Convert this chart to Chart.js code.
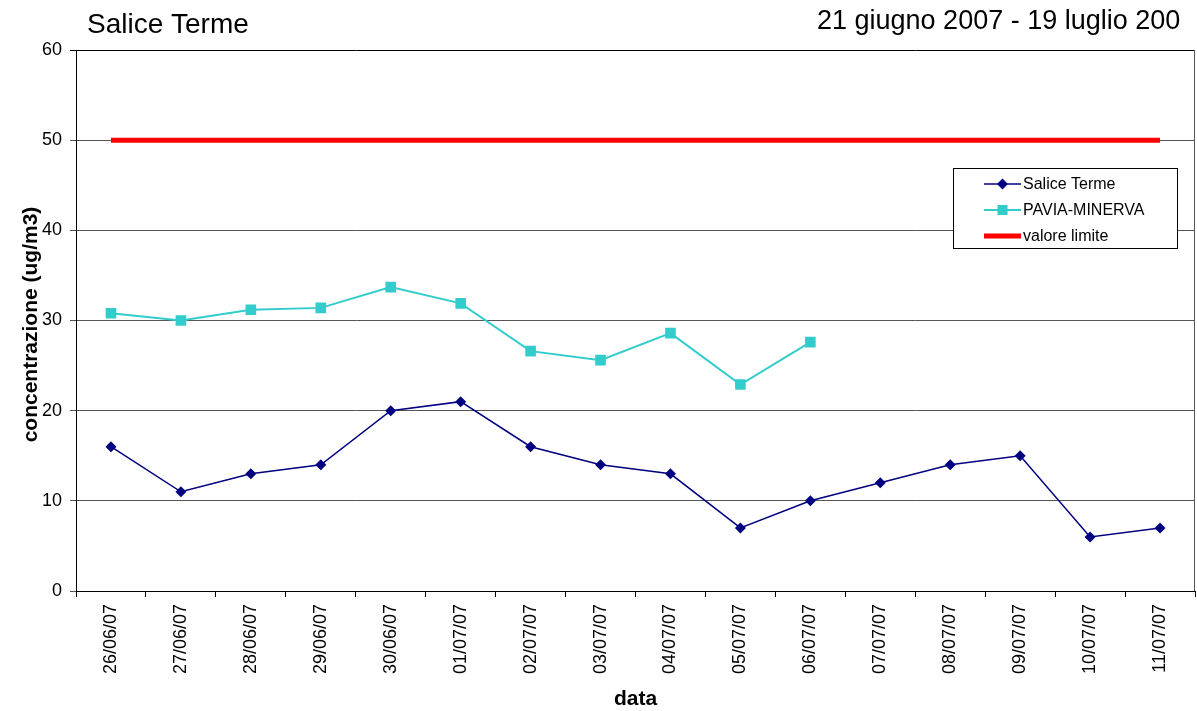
<!DOCTYPE html>
<html>
<head>
<meta charset="utf-8">
<script src="https://cdn.jsdelivr.net/npm/chart.js@4.4.0/dist/chart.umd.min.js"></script>
<style>
  html, body { margin: 0; padding: 0; background: #fff; }
  #wrap { width: 1197px; height: 711px; position: relative; }
</style>
</head>
<body>
<div id="wrap"><canvas id="chart" width="1197" height="711"></canvas></div>
<script>
// categories
const dates = ['26/06/07', '27/06/07', '28/06/07', '29/06/07', '30/06/07', '01/07/07', '02/07/07', '03/07/07',
               '04/07/07', '05/07/07', '06/07/07', '07/07/07', '08/07/07', '09/07/07', '10/07/07', '11/07/07'];

// series
const saliceTerme = [16, 11, 13, 14, 20, 21, 16, 14, 13, 7, 10, 12, 14, 15, 6, 7];
const paviaMinerva = [30.8, 30.0, 31.2, 31.4, 33.7, 31.9, 26.6, 25.6, 28.6, 22.9, 27.6,
                      null, null, null, null, null];
const valoreLimite = [50, 50, 50, 50, 50, 50, 50, 50, 50, 50, 50, 50, 50, 50, 50, 50];

const yTicks = [0, 10, 20, 30, 40, 50, 60];

const FONT = 'Liberation Sans, Arial, sans-serif';

// titles + legend drawn the way the excel sheet had them
const decorations = {
  id: 'decorations',
  afterDraw(chart) {
    const ctx = chart.ctx;
    const area = chart.chartArea;
    ctx.save();
    ctx.fillStyle = '#000';
    ctx.textBaseline = 'alphabetic';
    ctx.font = '28px ' + FONT;
    ctx.textAlign = 'left';
    ctx.fillText('Salice Terme', 87, 33);
    // the date range runs off the chart frame in the original
    ctx.save();
    ctx.beginPath();
    ctx.rect(0, 0, 1181, 48);
    ctx.clip();
    ctx.font = '27px ' + FONT;
    ctx.fillText('21 giugno 2007 - 19 luglio 2007', 817, 29);
    ctx.restore();

    // axis titles
    ctx.font = 'bold 21px ' + FONT;
    ctx.textAlign = 'center';
    ctx.fillText('data', (area.left + area.right) / 2, 705);
    ctx.save();
    ctx.translate(37, (area.top + area.bottom) / 2 + 4);
    ctx.rotate(-Math.PI / 2);
    ctx.fillText('concentrazione (ug/m3)', 0, 0);
    ctx.restore();

    // legend box
    const lx = 953, ly = 168, lw = 224, lh = 80;
    ctx.fillStyle = '#fff';
    ctx.fillRect(lx, ly, lw, lh);
    ctx.strokeStyle = '#000';
    ctx.lineWidth = 1;
    ctx.strokeRect(lx + 0.5, ly + 0.5, lw, lh);

    const items = chart.data.datasets;
    ctx.font = '16px ' + FONT;
    ctx.textAlign = 'left';
    ctx.textBaseline = 'middle';
    items.forEach((ds, i) => {
      const cy = ly + 16 + i * 26;
      ctx.strokeStyle = ds.borderColor;
      ctx.lineWidth = ds.borderWidth;
      ctx.beginPath();
      ctx.moveTo(lx + 31, cy);
      ctx.lineTo(lx + 68, cy);
      ctx.stroke();
      ctx.fillStyle = ds.backgroundColor;
      if (ds.pointStyle === 'rectRot') {
        ctx.beginPath();
        ctx.moveTo(lx + 49.5, cy - 5.5);
        ctx.lineTo(lx + 55, cy);
        ctx.lineTo(lx + 49.5, cy + 5.5);
        ctx.lineTo(lx + 44, cy);
        ctx.closePath();
        ctx.fill();
      } else if (ds.pointStyle === 'rect') {
        ctx.fillRect(lx + 44.5, cy - 5, 10, 10);
      }
      ctx.fillStyle = '#000';
      ctx.fillText(ds.label, lx + 70, cy + 1);
    });
    ctx.restore();
  }
};

new Chart(document.getElementById('chart'), {
  type: 'line',
  data: {
    labels: dates,
    datasets: [
      {
        label: 'Salice Terme',
        data: saliceTerme,
        borderColor: '#000080',
        backgroundColor: '#000080',
        borderWidth: 1.5,
        pointStyle: 'rectRot',
        pointRadius: 5.5,
        pointBorderWidth: 0,
        tension: 0
      },
      {
        label: 'PAVIA-MINERVA',
        data: paviaMinerva,
        borderColor: '#33CCCC',
        backgroundColor: '#33CCCC',
        borderWidth: 2,
        pointStyle: 'rect',
        pointRadius: 7.5,
        pointBorderWidth: 0,
        spanGaps: false,
        tension: 0
      },
      {
        label: 'valore limite',
        data: valoreLimite,
        borderColor: '#FF0000',
        backgroundColor: '#FF0000',
        borderWidth: 5,
        pointRadius: 0,
        pointStyle: false,
        tension: 0
      }
    ]
  },
  options: {
    responsive: false,
    animation: false,
    layout: { autoPadding: false, padding: { top: 50, right: 2, left: 0, bottom: 0 } },
    plugins: {
      legend: { display: false },
      tooltip: { enabled: false }
    },
    scales: {
      x: {
        offset: true,
        grid: {
          offset: true,
          drawOnChartArea: false,
          color: '#000',
          tickLength: 6
        },
        border: { color: '#000', width: 1 },
        ticks: {
          color: '#000',
          font: { family: FONT, size: 18 },
          minRotation: 90,
          maxRotation: 90,
          autoSkip: false,
          padding: 7
        },
        afterFit(scale) { scale.height = 120; }
      },
      y: {
        min: 0,
        max: 60,
        afterBuildTicks(scale) { scale.ticks = yTicks.map(v => ({ value: v })); },
        grid: {
          color: (c) => (c.tick && c.tick.value === 60 ? '#000' : '#555555'),
          lineWidth: 1,
          tickLength: 6
        },
        border: { color: '#000', width: 1 },
        ticks: {
          color: '#000',
          font: { family: FONT, size: 18 },
          padding: 8
        },
        afterFit(scale) { scale.width = 76; }
      }
    }
  },
  plugins: [decorations, {
    id: 'rightBorder',
    afterDraw(chart) {
      const a = chart.chartArea;
      const ctx = chart.ctx;
      ctx.save();
      ctx.strokeStyle = '#555555';
      ctx.lineWidth = 1;
      ctx.beginPath();
      ctx.moveTo(a.right - 0.5, a.top);
      ctx.lineTo(a.right - 0.5, a.bottom);
      ctx.stroke();
      ctx.restore();
    }
  }]
});
</script>
</body>
</html>
